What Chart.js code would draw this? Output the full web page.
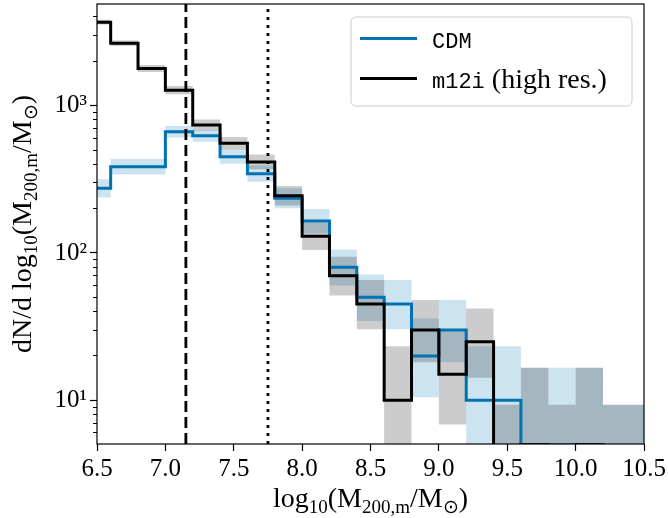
<!DOCTYPE html>
<html>
<head>
<meta charset="utf-8">
<script src="https://cdn.jsdelivr.net/npm/chart.js@4/dist/chart.umd.min.js"></script>
<style>
  html, body { margin: 0; padding: 0; background: #ffffff; }
  #wrap { width: 668px; height: 518px; position: relative; }
</style>
</head>
<body>
<div id="wrap"><canvas id="c" width="668" height="518"></canvas></div>
<script>
// ---------- data ----------
const binEdges = [6.4, 6.6, 6.8, 7.0, 7.2, 7.4, 7.6, 7.8, 8.0, 8.2, 8.4, 8.6, 8.8, 9.0, 9.2, 9.4, 9.6, 9.8, 10.0, 10.2, 10.4, 10.6];

const cdmValues = [275, 385, 385, 665, 625, 450, 345, 235, 165, 80, 50, 45, 20, 30, 10, 10, 5, 5, 5, 0, 0];
const cdmLower  = [238, 341, 341, 607, 569, 403, 304, 201, 136, 60.2, 34.5, 30.3, 10.5, 18.1, 3.56, 3.56, 0.86, 0.86, 0.86, 0, 0];
const cdmUpper  = [317, 434, 434, 728, 686, 503, 392, 275, 199, 105.5, 71.4, 65.6, 35.9, 48.0, 23.3, 23.3, 16.6, 16.6, 16.6, 9.33, 9.33];

const m12iValues = [3690, 2655, 1790, 1275, 740, 555, 415, 245, 130, 70, 45, 10, 30, 15, 25, 0, 5, 0, 5, 0, 0];
const m12iLower  = [3554, 2540, 1695, 1195, 679, 502, 370, 210, 104.7, 51.5, 30.3, 3.56, 18.1, 6.86, 14.2, 0, 0.86, 0, 0.86, 0, 0];
const m12iUpper  = [3831, 2775, 1890, 1360, 806, 613, 466, 285, 161, 94.2, 65.6, 23.3, 48.0, 29.7, 42.0, 9.33, 16.6, 9.33, 16.6, 9.33, 9.33];

const resolutionLimits = [7.15, 7.75];   // dashed, dotted

const xTickValues = [6.5, 7.0, 7.5, 8.0, 8.5, 9.0, 9.5, 10.0, 10.5];
const yMajorTicks = [10, 100, 1000];
const yMajorLabels = ['10\u00B9', '10\u00B2', '10\u00B3'];
const yMinorTicks = [6, 7, 8, 9, 20, 30, 40, 50, 60, 70, 80, 90, 200, 300, 400, 500, 600, 700, 800, 900, 2000, 3000, 4000];

const seriesNames = ['CDM', 'm12i'];
const legendSuffix = ['', ' (high res.)'];

const X_MIN = 6.5, X_MAX = 10.5;
const Y_MIN = 5.05, Y_MAX = 4900;

// ---------- styling ----------
const BLUE = '#0072b2';
const BLUE_BAND = 'rgba(0,114,178,0.2)';
const GREY_BAND = 'rgba(0,0,0,0.2)';
const SERIF = "'Liberation Serif', 'Times New Roman', serif";
const MONO = "'Liberation Mono', 'DejaVu Sans Mono', monospace";

// zero counts sit far below the visible range on a log axis
const FLOOR = 1e-3;
function stepPoints(vals) {
  const pts = vals.map((v, i) => ({ x: binEdges[i], y: v > 0 ? v : FLOOR }));
  const last = vals[vals.length - 1];
  pts.push({ x: binEdges[binEdges.length - 1], y: last > 0 ? last : FLOOR });
  return pts;
}

function lineDs(vals, color, width) {
  return {
    data: stepPoints(vals), borderColor: color, borderWidth: width,
    stepped: 'before', pointRadius: 0, fill: false, clip: 0, tension: 0
  };
}
function bandDs(vals, fillColor, fillTo) {
  return {
    data: stepPoints(vals), borderWidth: 0, borderColor: 'rgba(0,0,0,0)',
    backgroundColor: fillColor, stepped: 'before', pointRadius: 0,
    fill: fillTo, clip: 0, tension: 0
  };
}
function vline(x, dash) {
  return {
    data: [{ x: x, y: Y_MIN }, { x: x, y: Y_MAX }],
    borderColor: '#000', borderWidth: 2.8, borderDash: dash,
    pointRadius: 0, fill: false, clip: 0
  };
}

const datasets = [
  vline(resolutionLimits[0], [11, 5]),
  vline(resolutionLimits[1], [3, 5]),
  lineDs(m12iValues, '#000000', 3),
  lineDs(cdmValues, BLUE, 3),
  bandDs(m12iLower, 'rgba(0,0,0,0)', false),
  bandDs(m12iUpper, GREY_BAND, '-1'),
  bandDs(cdmLower, 'rgba(0,0,0,0)', false),
  bandDs(cdmUpper, BLUE_BAND, '-1')
];

// ---------- rich text helpers ----------
function drawRich(ctx, parts, cx, baseY, mainFont, subFont, drop) {
  const widths = parts.map(p => { ctx.font = p[1] ? subFont : mainFont; return ctx.measureText(p[0]).width; });
  const total = widths.reduce((s, w) => s + w, 0);
  let x = cx - total / 2;
  ctx.textAlign = 'left';
  ctx.textBaseline = 'alphabetic';
  parts.forEach((p, i) => {
    ctx.font = p[1] ? subFont : mainFont;
    ctx.fillText(p[0], x, baseY + (p[1] ? drop : 0));
    x += widths[i];
  });
}

const xTitleParts = [['log', 0], ['10', 1], ['(M', 0], ['200,m', 1], ['/M', 0], ['\u2299', 1], [')', 0]];
const yTitleParts = [['dN/d log', 0], ['10', 1], ['(M', 0], ['200,m', 1], ['/M', 0], ['\u2299', 1], [')', 0]];

const extras = {
  id: 'extras',
  afterDraw(chart) {
    const ctx = chart.ctx;
    const a = chart.chartArea;
    ctx.save();
    // frame
    ctx.strokeStyle = '#000';
    ctx.lineWidth = 1.2;
    ctx.strokeRect(a.left, a.top, a.right - a.left, a.bottom - a.top);

    // axis titles
    ctx.fillStyle = '#000';
    const mainF = '28px ' + SERIF, subF = '19px ' + SERIF;
    drawRich(ctx, xTitleParts, (a.left + a.right) / 2, 507, mainF, subF, 6);
    ctx.save();
    ctx.translate(31, (a.top + a.bottom) / 2);
    ctx.rotate(-Math.PI / 2);
    drawRich(ctx, yTitleParts, 0, 0, mainF, subF, 6);
    ctx.restore();

    // legend
    const bx = 351, by = 17, bw = 281, bh = 89, r = 5;
    ctx.beginPath();
    ctx.moveTo(bx + r, by);
    ctx.lineTo(bx + bw - r, by); ctx.arcTo(bx + bw, by, bx + bw, by + r, r);
    ctx.lineTo(bx + bw, by + bh - r); ctx.arcTo(bx + bw, by + bh, bx + bw - r, by + bh, r);
    ctx.lineTo(bx + r, by + bh); ctx.arcTo(bx, by + bh, bx, by + bh - r, r);
    ctx.lineTo(bx, by + r); ctx.arcTo(bx, by, bx + r, by, r);
    ctx.closePath();
    ctx.fillStyle = 'rgba(255,255,255,0.8)';
    ctx.fill();
    ctx.strokeStyle = '#cccccc';
    ctx.lineWidth = 1;
    ctx.stroke();

    const colors = [BLUE, '#000000'];
    const rowsY = [38.5, 78.5];
    seriesNames.forEach((name, i) => {
      ctx.strokeStyle = colors[i];
      ctx.lineWidth = 3;
      ctx.beginPath();
      ctx.moveTo(360, rowsY[i]);
      ctx.lineTo(417, rowsY[i]);
      ctx.stroke();
      ctx.fillStyle = '#000';
      ctx.textAlign = 'left';
      ctx.textBaseline = 'alphabetic';
      ctx.font = '22px ' + MONO;
      ctx.fillText(name, 432, rowsY[i] + 9);
      const w = ctx.measureText(name).width;
      if (legendSuffix[i]) {
        ctx.font = '28px ' + SERIF;
        ctx.fillText(legendSuffix[i], 432 + w, rowsY[i] + 9);
      }
    });
    ctx.restore();
  }
};

new Chart(document.getElementById('c'), {
  type: 'line',
  data: { datasets: datasets },
  plugins: [extras],
  options: {
    responsive: false,
    animation: false,
    devicePixelRatio: 1,
    layout: { padding: { top: 4, right: 24, bottom: 0, left: 0 } },
    plugins: { legend: { display: false }, tooltip: { enabled: false }, title: { display: false } },
    scales: {
      x: {
        type: 'linear', position: 'bottom', min: X_MIN, max: X_MAX,
        border: { display: false },
        grid: { display: true, drawOnChartArea: false, drawTicks: true, tickLength: 7, tickWidth: 1.2, tickColor: '#000' },
        ticks: {
          color: '#000', font: { family: SERIF, size: 25 }, padding: 3, maxRotation: 0, autoSkip: false,
          callback: (v) => Number(v).toFixed(1)
        },
        afterBuildTicks: (s) => { s.ticks = xTickValues.map(v => ({ value: v })); },
        afterFit: (s) => { s.height = 74; s.paddingLeft = 0; s.paddingRight = 0; }
      },
      y: {
        type: 'logarithmic', position: 'left', min: Y_MIN, max: Y_MAX, weight: 1,
        border: { display: false },
        grid: { display: true, drawOnChartArea: false, drawTicks: true, tickLength: 7, tickWidth: 1.2, tickColor: '#000' },
        ticks: {
          color: '#000', font: { family: SERIF, size: 25 }, padding: 3, autoSkip: false,
          callback: (v) => { const k = yMajorTicks.indexOf(Number(v)); return k >= 0 ? yMajorLabels[k] : ''; }
        },
        afterBuildTicks: (s) => { s.ticks = yMajorTicks.map(v => ({ value: v })); },
        afterFit: (s) => { s.width = 97; s.paddingTop = 0; s.paddingBottom = 0; }
      },
      y2: {
        type: 'logarithmic', position: 'left', min: Y_MIN, max: Y_MAX, weight: 0,
        border: { display: false },
        grid: { display: true, drawOnChartArea: false, drawTicks: true, tickLength: 4, tickWidth: 1, tickColor: '#000' },
        ticks: { display: false },
        afterBuildTicks: (s) => { s.ticks = yMinorTicks.map(v => ({ value: v })); },
        afterFit: (s) => { s.width = 0; s.paddingTop = 0; s.paddingBottom = 0; }
      }
    }
  }
});
</script>
</body>
</html>
